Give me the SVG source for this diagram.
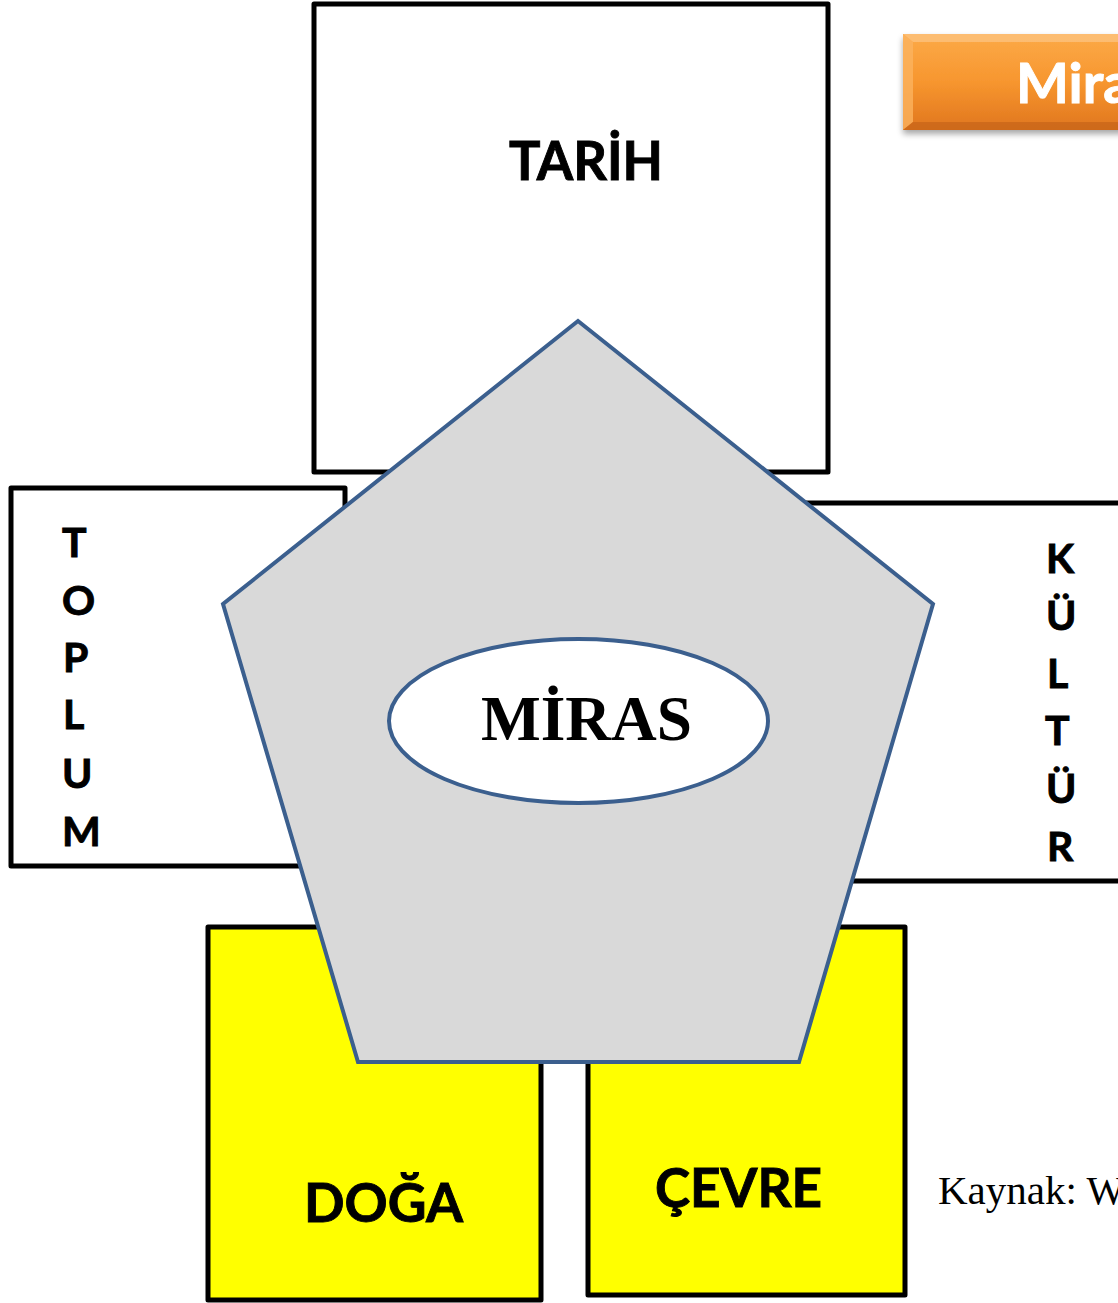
<svg xmlns="http://www.w3.org/2000/svg" width="1118" height="1303" viewBox="0 0 1118 1303">
<defs>
<linearGradient id="og" x1="0" y1="0" x2="0" y2="1">
<stop offset="0" stop-color="#fcaa48"/>
<stop offset="0.5" stop-color="#f7962f"/>
<stop offset="1" stop-color="#e0761e"/>
</linearGradient>
<filter id="sh" x="-10%" y="-20%" width="130%" height="160%">
<feGaussianBlur in="SourceAlpha" stdDeviation="3"/>
<feOffset dx="0" dy="4"/>
<feComponentTransfer><feFuncA type="linear" slope="0.35"/></feComponentTransfer>
<feMerge><feMergeNode/><feMergeNode in="SourceGraphic"/></feMerge>
</filter>
<style>
.box{fill:#ffffff;stroke:#000;stroke-width:5;stroke-linejoin:round}
.ybox{fill:#ffff00;stroke:#000;stroke-width:5;stroke-linejoin:round}
.sans{font-family:Lato,"Open Sans","Liberation Sans",sans-serif;font-weight:700;fill:#000;stroke:#000;stroke-width:0.9}
.big{font-size:53px}
.vert{font-size:41px}
.serif{font-family:"Liberation Serif","Times New Roman",serif;fill:#000}
</style>
</defs>
<rect width="1118" height="1303" fill="#ffffff"/>

<g id="tarih">
<rect class="box" x="314" y="4" width="514" height="468"/>
<text class="sans big" x="509" y="180" textLength="154" lengthAdjust="spacingAndGlyphs">TARİH</text>
</g>

<g id="toplum">
<rect class="box" x="11" y="488" width="334" height="378"/>
<text class="sans vert" x="62" y="557">T</text>
<text class="sans vert" x="62" y="615">O</text>
<text class="sans vert" x="63" y="672">P</text>
<text class="sans vert" x="63" y="729">L</text>
<text class="sans vert" x="62" y="788">U</text>
<text class="sans vert" x="62" y="846">M</text>
</g>

<g id="kultur">
<rect class="box" x="790" y="503" width="360" height="378"/>
<text class="sans vert" x="1046" y="573">K</text>
<text class="sans vert" x="1046" y="630">Ü</text>
<text class="sans vert" x="1047" y="688">L</text>
<text class="sans vert" x="1045" y="745">T</text>
<text class="sans vert" x="1046" y="803">Ü</text>
<text class="sans vert" x="1047" y="861">R</text>
</g>

<g id="doga">
<rect class="ybox" x="208" y="927" width="333" height="373"/>
<text class="sans big" x="304" y="1222" textLength="159" lengthAdjust="spacingAndGlyphs">DOĞA</text>
</g>

<g id="cevre">
<rect class="ybox" x="588" y="927" width="317" height="368"/>
<text class="sans big" x="655" y="1207" textLength="167" lengthAdjust="spacingAndGlyphs">ÇEVRE</text>
</g>

<g id="miras">
<polygon points="578,321 933,604 799,1062 358,1062 223,604" fill="#d9d9d9" stroke="#3b5f8e" stroke-width="4" stroke-linejoin="miter"/>
<ellipse cx="578.5" cy="721" rx="189.5" ry="82" fill="#ffffff" stroke="#3b5f8e" stroke-width="4"/>
<text class="serif" x="481" y="740" font-size="63" font-weight="700" textLength="211" lengthAdjust="spacingAndGlyphs">MİRAS</text>
</g>

<g id="title">
<g filter="url(#sh)">
<rect x="903" y="34" width="230" height="96" fill="url(#og)"/>
</g>
<polygon points="903,34 1133,34 1133,42 913,42" fill="#fdc27d" opacity="0.8"/>
<polygon points="903,34 913,42 913,122 903,130" fill="#fbb35f" opacity="0.8"/>
<polygon points="903,130 913,122 1133,122 1133,130" fill="#c9661a" opacity="0.8"/>
<text x="1016" y="103" font-family="Lato,'Open Sans','Liberation Sans',sans-serif" font-weight="700" font-size="56" fill="#ffffff" stroke="#ffffff" stroke-width="0.9">Mira</text>
</g>

<g id="kaynak">
<text class="serif" x="938" y="1204" font-size="41">Kaynak: W</text>
</g>

<g id="connectors"></g>
</svg>
